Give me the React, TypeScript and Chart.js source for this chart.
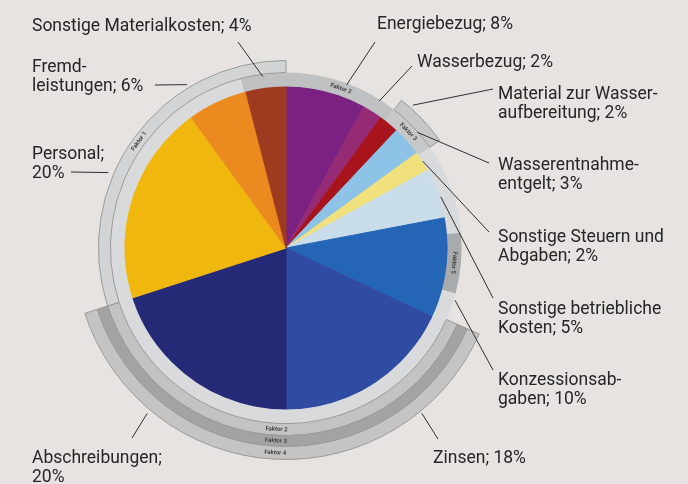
import React, { useEffect, useRef } from "react";
import { Chart, registerables } from "chart.js";

Chart.register(...registerables);

// ---------- data ----------
const categories = [
  "Energiebezug",
  "Wasserbezug",
  "Material zur Wasseraufbereitung",
  "Wasserentnahmeentgelt",
  "Sonstige Steuern und Abgaben",
  "Sonstige betriebliche Kosten",
  "Konzessionsabgaben",
  "Zinsen",
  "Abschreibungen",
  "Personal",
  "Fremdleistungen",
  "Sonstige Materialkosten",
];
const shares = [8, 2, 2, 3, 2, 5, 10, 18, 20, 20, 6, 4];
const labelLines = [
  ["Energiebezug; 8%"],
  ["Wasserbezug; 2%"],
  ["Material zur Wasser-", "aufbereitung; 2%"],
  ["Wasserentnahme-", "entgelt; 3%"],
  ["Sonstige Steuern und", "Abgaben; 2%"],
  ["Sonstige betriebliche", "Kosten; 5%"],
  ["Konzessionsab-", "gaben; 10%"],
  ["Zinsen; 18%"],
  ["Abschreibungen;", "20%"],
  ["Personal;", "20%"],
  ["Fremd-", "leistungen; 6%"],
  ["Sonstige Materialkosten; 4%"],
];

// decorative "Faktor" rings: spans in degrees, clockwise from 12 o'clock
const rimSpans = [38, 17, 30, 20, 240, 15];
const rimNames = ["Faktor 2", "Faktor 3", "", "Faktor 5", "", ""];
const bandASpans = [38, 17, 59, 138, 108];
const bandANames = ["", "", "", "Faktor 2", "Faktor 1"];
const bandBSpans = [114, 138, 108];
const bandBNames = ["", "Faktor 3", ""];
const bandCSpans = [114, 138, 108];
const bandCNames = ["", "Faktor 4", ""];

// ---------- styles ----------
const BG = "#e6e3e0";
const NONE = "rgba(0,0,0,0)";
const sliceColors = [
  "#7a2181",
  "#952b74",
  "#a8141c",
  "#8cc3e6",
  "#f1e17c",
  "#c9dcea",
  "#2465b6",
  "#2f4ba2",
  "#252a77",
  "#f0b70f",
  "#ea8a1f",
  "#9e3a1f",
];
const rimColors = ["#bfc0c2", "#c6c7c9", "#d9dadc", "#a9aaac", "#d9dadc", "#bfc0c2"];
const bandAColors = [NONE, "#c6c7c9", NONE, "#c3c3c3", "#d3d4d6"];
const bandBColors = [NONE, "#a3a3a3", NONE];
const bandCColors = [NONE, "#c4c4c4", NONE];
const ringBorder = "#9a9a9a";

// label layout: text pos, leader end near text, leader anchor radius & angle shift
const labelLayout = [
  { tx: 377, ty: 29, lx: 375, ly: 42, r: 174, da: 6 },
  { tx: 417, ty: 67, lx: 412, ly: 66, r: 174, da: 0 },
  { tx: 498, ty: 99, lx: 493, ly: 89, r: 191, da: 2 },
  { tx: 498, ty: 170, lx: 489, ly: 163, r: 175, da: 0 },
  { tx: 498, ty: 242, lx: 489, ly: 232, r: 162, da: 0 },
  { tx: 498, ty: 314, lx: 493, ly: 298, r: 163, da: 1.5 },
  { tx: 498, ty: 385, lx: 493, ly: 370, r: 177, da: 10 },
  { tx: 433, ty: 463, lx: 438, ly: 439, r: 214, da: -7 },
  { tx: 32, ty: 463, lx: 132, ly: 438, r: 216, da: 4 },
  { tx: 32, ty: 159, lx: 71, ly: 172, r: 193, da: 5 },
  { tx: 32, ty: 72, lx: 155, ly: 85, r: 191, da: -6 },
  { tx: 32, ty: 31, lx: 238, ly: 42, r: 173, da: -0.5 },
];
const LINE_H = 18.5;
const FONT = "17.5px Roboto";
const PIE_INDEX = 4;

const segBorders = (cols: string[]) => cols.map((c) => (c === NONE ? 0 : 1));

const labelPlugin = {
  id: "costLabels",
  afterDatasetsDraw(chart: any) {
    const ctx = chart.ctx as CanvasRenderingContext2D;
    ctx.save();
    // tiny Faktor captions on rings
    const ringNames = [bandCNames, bandBNames, bandANames, rimNames];
    ringNames.forEach((names, di) => {
      const meta = chart.getDatasetMeta(di);
      meta.data.forEach((arc: any, i: number) => {
        const name = names[i];
        if (!name) return;
        const p = arc.getProps(["x", "y", "startAngle", "endAngle", "innerRadius", "outerRadius"], true);
        const a = (p.startAngle + p.endAngle) / 2;
        const rr = (p.innerRadius + p.outerRadius) / 2;
        ctx.save();
        ctx.translate(p.x + Math.cos(a) * rr, p.y + Math.sin(a) * rr);
        let rot = a + Math.PI / 2;
        if (Math.sin(a) > 0.3) rot += Math.PI;
        ctx.rotate(rot);
        ctx.font = "bold 6px Roboto";
        ctx.fillStyle = "#444";
        ctx.textAlign = "center";
        ctx.textBaseline = "middle";
        ctx.fillText(name, 0, 0);
        ctx.restore();
      });
    });

    const meta = chart.getDatasetMeta(PIE_INDEX);
    ctx.font = FONT;
    ctx.fillStyle = "#262626";
    ctx.strokeStyle = "#2e2e2e";
    ctx.lineWidth = 1;
    ctx.textBaseline = "alphabetic";
    ctx.textAlign = "left";
    meta.data.forEach((arc: any, i: number) => {
      const p = arc.getProps(["x", "y", "startAngle", "endAngle"], true);
      const L = labelLayout[i];
      const a = (p.startAngle + p.endAngle) / 2 + (L.da * Math.PI) / 180;
      const ax = p.x + Math.cos(a) * L.r;
      const ay = p.y + Math.sin(a) * L.r;
      ctx.beginPath();
      ctx.moveTo(ax, ay);
      ctx.lineTo(L.lx, L.ly);
      ctx.stroke();
      labelLines[i].forEach((t, k) => ctx.fillText(t, L.tx, L.ty + k * LINE_H));
    });
    ctx.restore();
  },
};

export default function App() {
  const ref = useRef<HTMLCanvasElement | null>(null);
  useEffect(() => {
    if (!ref.current) return;
    const chart = new Chart(ref.current, {
      type: "pie",
      data: {
        labels: categories,
        datasets: [
          { data: bandCSpans, backgroundColor: bandCColors, borderColor: ringBorder, borderWidth: segBorders(bandCColors), weight: 13 },
          { data: bandBSpans, backgroundColor: bandBColors, borderColor: ringBorder, borderWidth: segBorders(bandBColors), weight: 11 },
          { data: bandASpans, backgroundColor: bandAColors, borderColor: ringBorder, borderWidth: segBorders(bandAColors), weight: 12 },
          { data: rimSpans, backgroundColor: rimColors, borderColor: "#b0b1b3", borderWidth: 0, weight: 14 },
          { data: shares, backgroundColor: sliceColors, borderColor: sliceColors, borderWidth: 1, weight: 162 },
        ] as any,
      },
      options: {
        responsive: false,
        animation: false,
        events: [],
        layout: { padding: { left: 74, right: 190, top: 36, bottom: 24 } },
        plugins: { legend: { display: false }, tooltip: { enabled: false } },
      },
      plugins: [labelPlugin],
    });
    return () => chart.destroy();
  }, []);
  return (
    <div style={{ position: "fixed", left: 0, top: 0, width: 688, height: 484, background: BG }}>
      <canvas ref={ref} width={688} height={484} style={{ width: 688, height: 484, display: "block" }} />
    </div>
  );
}
